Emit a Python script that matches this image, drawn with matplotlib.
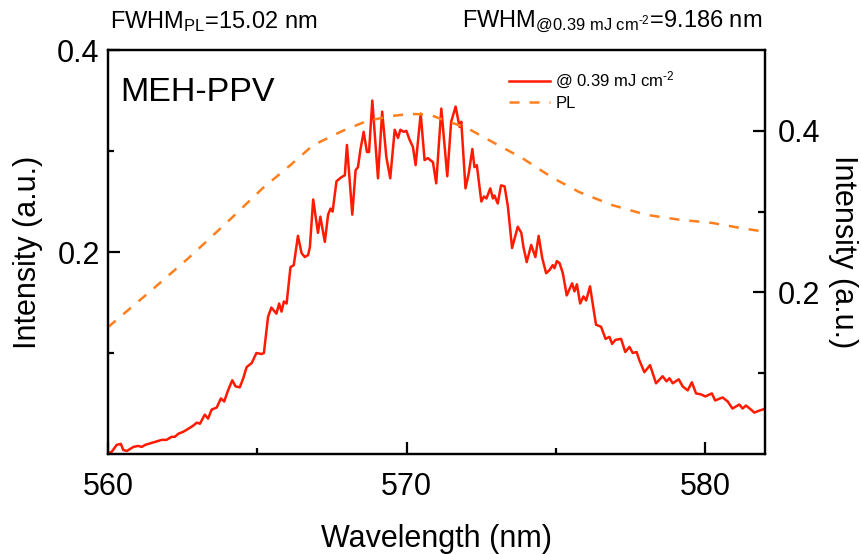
import matplotlib
matplotlib.use("Agg")
import matplotlib.pyplot as plt
import numpy as np

plt.rcParams['font.family'] = ['Liberation Sans', 'DejaVu Sans']
plt.rcParams['mathtext.fontset'] = 'custom'
plt.rcParams['mathtext.rm'] = 'Liberation Sans'
plt.rcParams['mathtext.it'] = 'Liberation Sans'
plt.rcParams['mathtext.bf'] = 'Liberation Sans'

# lasing spectrum @ 0.39 mJ cm-2 (left axis)
wl_las = [560.01, 560.12, 560.29, 560.43, 560.51, 560.63, 560.74, 560.85, 561.01, 561.13,
          561.24, 561.35, 561.57, 561.80, 561.96, 562.13, 562.24, 562.35, 562.52, 562.69,
          562.85, 562.97, 563.08, 563.24, 563.35, 563.47, 563.64, 563.78, 563.89, 564.02,
          564.16, 564.27, 564.41, 564.53, 564.64, 564.81, 564.97, 565.14, 565.22, 565.36,
          565.47, 565.64, 565.73, 565.81, 565.89, 565.98, 566.11, 566.22, 566.36, 566.48,
          566.59, 566.70, 566.76, 566.87, 567.03, 567.11, 567.26, 567.37, 567.45, 567.52,
          567.65, 567.81, 567.93, 568.00, 568.18, 568.29, 568.37, 568.45, 568.56, 568.67,
          568.74, 568.85, 569.04, 569.18, 569.32, 569.45, 569.60, 569.71, 569.79, 569.90,
          569.99, 570.10, 570.21, 570.30, 570.47, 570.60, 570.71, 570.79, 570.88, 570.99,
          571.16, 571.36, 571.49, 571.64, 571.77, 571.83, 571.97, 572.08, 572.20, 572.27,
          572.35, 572.50, 572.59, 572.67, 572.80, 572.89, 572.94, 573.05, 573.16, 573.28,
          573.39, 573.53, 573.72, 573.84, 573.91, 574.02, 574.17, 574.31, 574.42, 574.54,
          574.67, 574.78, 574.89, 574.95, 575.03, 575.12, 575.23, 575.36, 575.54, 575.62,
          575.70, 575.81, 575.92, 576.01, 576.14, 576.34, 576.51, 576.66, 576.79, 576.88,
          576.99, 577.18, 577.32, 577.46, 577.57, 577.70, 577.79, 577.96, 578.15, 578.35,
          578.57, 578.70, 578.80, 578.91, 579.11, 579.24, 579.41, 579.55, 579.69, 579.86,
          580.00, 580.22, 580.33, 580.58, 580.75, 580.91, 581.14, 581.25, 581.36, 581.53,
          581.64, 581.81, 581.92, 582.00]
int_las = [0.001, 0.002, 0.009, 0.010, 0.004, 0.003, 0.005, 0.007, 0.008, 0.007,
           0.009, 0.010, 0.012, 0.014, 0.014, 0.017, 0.017, 0.020, 0.022, 0.025,
           0.028, 0.031, 0.030, 0.039, 0.035, 0.044, 0.046, 0.055, 0.052, 0.063,
           0.073, 0.067, 0.066, 0.075, 0.086, 0.090, 0.100, 0.099, 0.100, 0.136,
           0.145, 0.139, 0.149, 0.141, 0.151, 0.149, 0.185, 0.187, 0.216, 0.199,
           0.195, 0.197, 0.205, 0.252, 0.219, 0.235, 0.210, 0.237, 0.243, 0.240,
           0.270, 0.274, 0.276, 0.306, 0.237, 0.281, 0.284, 0.301, 0.319, 0.299,
           0.299, 0.350, 0.273, 0.339, 0.294, 0.273, 0.321, 0.313, 0.321, 0.319,
           0.320, 0.311, 0.304, 0.286, 0.337, 0.291, 0.293, 0.291, 0.289, 0.268,
           0.342, 0.275, 0.329, 0.344, 0.324, 0.329, 0.263, 0.278, 0.302, 0.284,
           0.286, 0.250, 0.255, 0.253, 0.263, 0.253, 0.256, 0.248, 0.266, 0.265,
           0.245, 0.204, 0.225, 0.219, 0.205, 0.190, 0.207, 0.195, 0.216, 0.194,
           0.179, 0.182, 0.187, 0.184, 0.191, 0.189, 0.179, 0.157, 0.169, 0.161,
           0.168, 0.149, 0.156, 0.152, 0.166, 0.128, 0.126, 0.114, 0.116, 0.109,
           0.113, 0.114, 0.101, 0.106, 0.100, 0.101, 0.093, 0.081, 0.088, 0.070,
           0.077, 0.072, 0.075, 0.070, 0.074, 0.067, 0.063, 0.071, 0.060, 0.059,
           0.057, 0.060, 0.053, 0.056, 0.052, 0.045, 0.049, 0.045, 0.048, 0.044,
           0.041, 0.043, 0.044, 0.045]

# PL spectrum (right axis)
wl_pl = [560.0, 561.5, 562.74, 564.08, 565.18, 566.09, 566.86, 567.86, 568.66, 569.43,
         570.1, 570.77, 571.34, 572.0, 572.78, 573.88, 574.88, 575.79, 576.89, 578.03,
         579.13, 580.23, 581.14, 582.0]
int_pl = [0.157, 0.204, 0.244, 0.290, 0.329, 0.357, 0.382, 0.400, 0.412, 0.418,
          0.421, 0.420, 0.412, 0.404, 0.388, 0.366, 0.342, 0.324, 0.308, 0.296,
          0.290, 0.286, 0.280, 0.275]

red = '#ff1a00'
orange = '#ff7f1e'

fig = plt.figure(figsize=(8.62, 5.54), dpi=100)
ax = fig.add_axes([0.1253, 0.1805, 0.7622, 0.7292])
ax2 = ax.twinx()

l1, = ax.plot(wl_las, int_las, color=red, lw=1.8, label=r'@ 0.39 mJ cm$^{\text{-}2}$')
l2, = ax2.plot(wl_pl, int_pl, color=orange, lw=1.8, ls=(0, (4, 4)), label='PL')

ax.set_xlim(560, 582)
ax.set_ylim(0, 0.4)
ax2.set_ylim(0, 0.5)

ax.set_xticks([560, 570, 580])
ax.set_xticks([565, 575], minor=True)
ax.set_yticks([0.2, 0.4])
ax.set_yticks([0.1, 0.3], minor=True)
ax2.set_yticks([0.2, 0.4])
ax2.set_yticks([0.1, 0.3], minor=True)

for a in (ax, ax2):
    for s in a.spines.values():
        s.set_linewidth(1.6)
ax.tick_params(which='both', direction='in', width=1.6, top=False, right=False, labelsize=22)
ax.tick_params(which='major', length=8.5)
ax.tick_params(which='minor', length=4)
ax.tick_params(axis='x', pad=13)
ax.tick_params(axis='y', pad=6)
ax2.tick_params(which='both', direction='in', width=1.6, labelsize=22, pad=9)
ax2.tick_params(which='major', length=8.5)
ax2.tick_params(which='minor', length=5)

ax.set_xlabel('Wavelength (nm)', fontsize=22, labelpad=16)
ax.set_ylabel('Intensity (a.u.)', fontsize=22, labelpad=10)
ax2.set_ylabel('Intensity (a.u.)', fontsize=22, rotation=270, labelpad=27)

ax.text(0.018, 0.895, 'MEH-PPV', transform=ax.transAxes, fontsize=24.5, va='center', ha='left')

fig.text(110 / 862, 1 - 22 / 554, r'FWHM$_{\mathrm{PL}}$=15.02 nm', fontsize=17, va='center', ha='left')
fig.text(762 / 862, 1 - 22 / 554, r'FWHM$_{@0.39\ \mathrm{mJ\ cm^{\text{-}2}}}$=9.186 nm', fontsize=17,
         va='center', ha='right')

ax.legend([l1, l2], [l1.get_label(), l2.get_label()], loc='upper left',
          bbox_to_anchor=(0.61, 0.95), frameon=False, fontsize=12, borderpad=0,
          borderaxespad=0, handlelength=2.5, handletextpad=0.3, labelspacing=0.25)

fig.savefig('out.png', dpi=100)
